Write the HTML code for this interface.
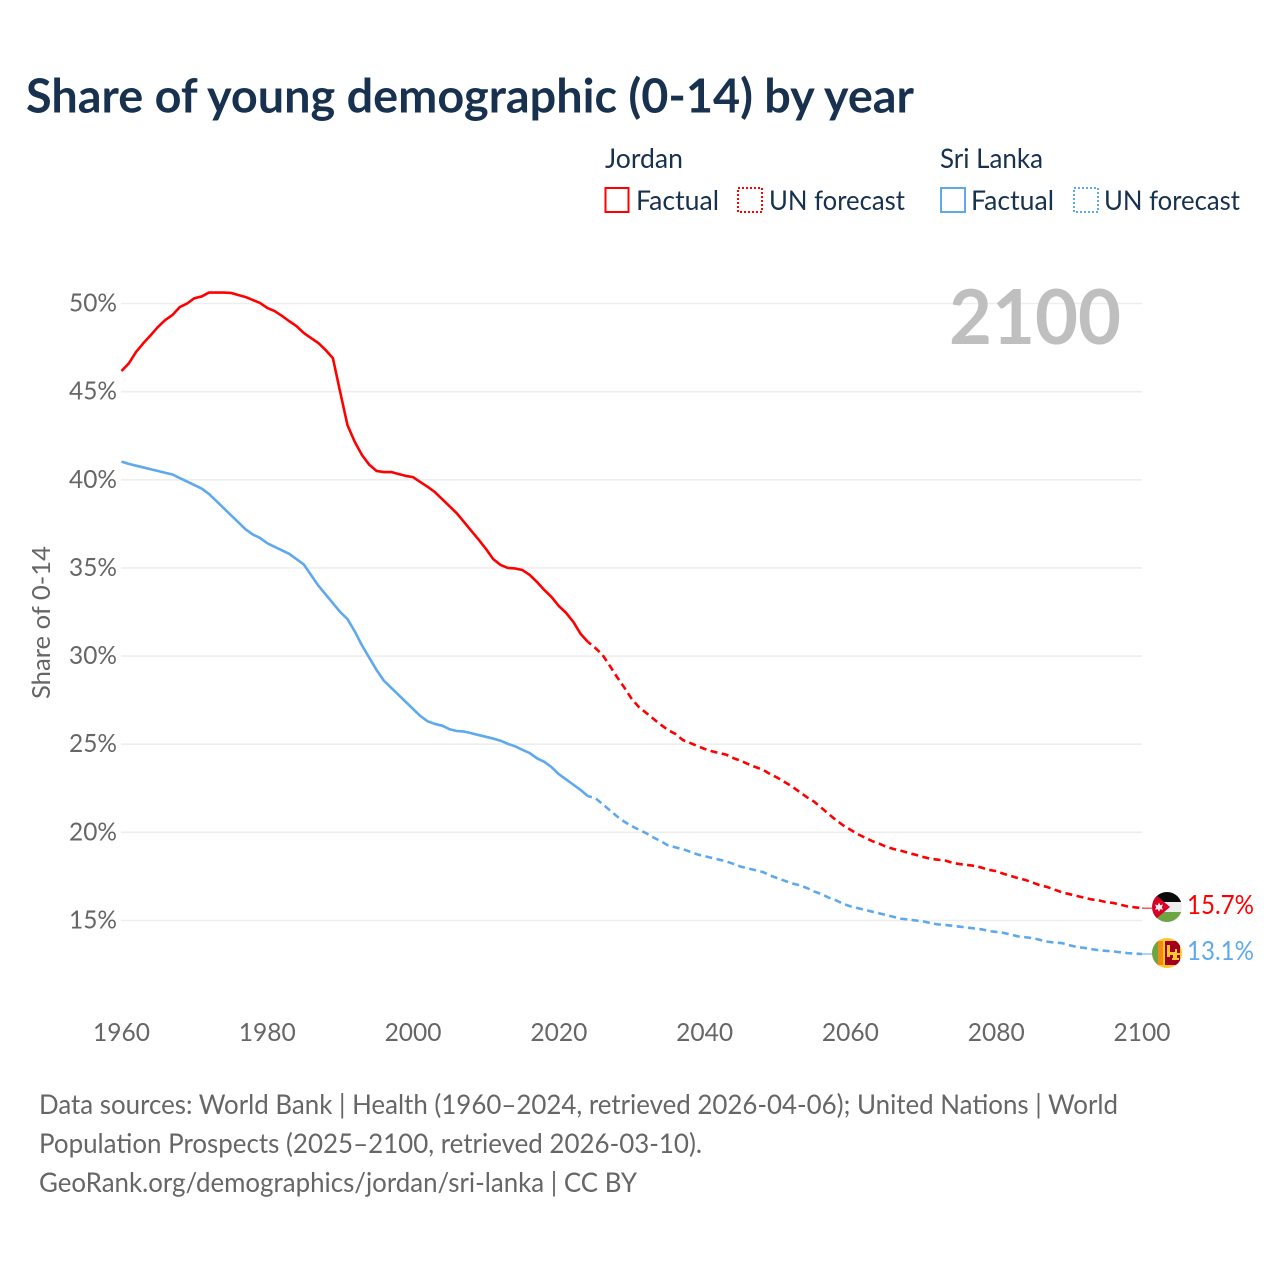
<!DOCTYPE html>
<html lang="en">
<head>
<meta charset="utf-8">
<title>Share of young demographic (0-14) by year</title>
<style>
html,body{margin:0;padding:0;background:#fff;width:1280px;height:1280px;overflow:hidden}
svg{display:block}
text{font-family:"Lato","Carlito","Liberation Sans",sans-serif}
</style>
</head>
<body>
<svg id="chart" xmlns="http://www.w3.org/2000/svg" width="1280" height="1280" viewBox="0 0 1280 1280">
  <defs>
    <clipPath id="jordan-clip"><circle cx="1167" cy="907" r="15"/></clipPath>
    <clipPath id="lanka-clip"><circle cx="1167" cy="953" r="15"/></clipPath>
  </defs>
  <rect x="0" y="0" width="1280" height="1280" fill="#ffffff"/>
  <text x="26" y="112.5" font-size="47" font-weight="700" fill="#17314f" textLength="888" lengthAdjust="spacingAndGlyphs">Share of young demographic (0-14) by year</text>

  <g font-size="27" fill="#17314f">
    <text x="605" y="168" textLength="78" lengthAdjust="spacingAndGlyphs">Jordan</text>
    <text x="940" y="168" textLength="103" lengthAdjust="spacingAndGlyphs">Sri Lanka</text>
    <rect x="605.5" y="188" width="23" height="24" fill="none" stroke="#ff0000" stroke-width="2"/>
    <text x="636" y="210" textLength="83" lengthAdjust="spacingAndGlyphs">Factual</text>
    <rect x="738" y="188" width="24" height="24" fill="none" stroke="#ff0000" stroke-width="2" stroke-dasharray="2 2"/>
    <text x="769" y="210" textLength="136" lengthAdjust="spacingAndGlyphs">UN forecast</text>
    <rect x="941" y="188" width="24" height="24" fill="none" stroke="#5ea9ee" stroke-width="2"/>
    <text x="971" y="210" textLength="83" lengthAdjust="spacingAndGlyphs">Factual</text>
    <rect x="1074" y="188" width="24" height="24" fill="none" stroke="#5ea9ee" stroke-width="2" stroke-dasharray="2 2"/>
    <text x="1104" y="210" textLength="136" lengthAdjust="spacingAndGlyphs">UN forecast</text>
  </g>

  <g id="grid"></g>
  <text x="949" y="344" font-size="76" font-weight="700" fill="#bfbfbf" textLength="172" lengthAdjust="spacingAndGlyphs">2100</text>
  <g id="yticks" font-size="25" fill="#666666" text-anchor="end"></g>
  <g id="xticks" font-size="25" fill="#666666" text-anchor="middle"></g>
  <text transform="translate(50,699) rotate(-90)" font-size="25" fill="#666666" textLength="153" lengthAdjust="spacingAndGlyphs">Share of 0-14</text>
  <g id="series"></g>

  <g clip-path="url(#jordan-clip)">
    <rect x="1152" y="892" width="30" height="10" fill="#0b0b0b"/>
    <rect x="1152" y="902" width="30" height="10" fill="#eeeeee"/>
    <rect x="1152" y="912" width="30" height="10" fill="#6da544"/>
    <polygon points="1150,890 1170,907 1150,924" fill="#d80027"/>
    <polygon points="1159,902.5 1160.2,905.2 1163,904.5 1161.8,907.2 1163,909.8 1160.2,909.2 1159,911.8 1157.8,909.2 1155,909.8 1156.2,907.2 1155,904.5 1157.8,905.2" fill="#eeeeee"/>
  </g>
  <g clip-path="url(#lanka-clip)">
    <rect x="1152" y="938" width="30" height="30" fill="#ffc72c"/>
    <rect x="1152" y="941" width="6" height="24" fill="#6da544"/>
    <rect x="1158" y="941" width="5" height="24" fill="#f58a12"/>
    <rect x="1165" y="941" width="15" height="24" fill="#a2001d"/>
    <path d="M1167 945h3v7h5v-3h2v4h3v2h-3v3h2v2h-7v-2h1v-3h-3v2h-3z" fill="#ffc72c"/>
  </g>
  <text x="1187" y="914" font-size="26" fill="#ff0000" textLength="67" lengthAdjust="spacingAndGlyphs">15.7%</text>
  <text x="1187" y="960" font-size="26" fill="#5ea9ee" textLength="67" lengthAdjust="spacingAndGlyphs">13.1%</text>

  <g font-size="27" fill="#666666">
    <text x="39" y="1114" textLength="1079" lengthAdjust="spacingAndGlyphs">Data sources: World Bank | Health (1960–2024, retrieved 2026-04-06); United Nations | World</text>
    <text x="39" y="1153" textLength="663" lengthAdjust="spacingAndGlyphs">Population Prospects (2025–2100, retrieved 2026-03-10).</text>
    <text x="39" y="1192" textLength="598" lengthAdjust="spacingAndGlyphs">GeoRank.org/demographics/jordan/sri-lanka | CC BY</text>
  </g>
</svg>
<script>
const startYear = 1960;
const lastFactualYear = 2024;
const xTickYears = [1960, 1980, 2000, 2020, 2040, 2060, 2080, 2100];
const yTickValues = [15, 20, 25, 30, 35, 40, 45, 50];
const jordanValues = [
  46.17,46.6,47.25,47.75,48.2,48.67,49.06,49.35,49.8,50.0,
  50.3,50.4,50.62,50.62,50.62,50.6,50.48,50.37,50.2,50.03,
  49.75,49.57,49.3,49.0,48.72,48.33,48.04,47.76,47.36,46.9,
  44.98,43.1,42.15,41.4,40.85,40.5,40.44,40.44,40.33,40.22,
  40.15,39.87,39.6,39.3,38.9,38.5,38.1,37.6,37.1,36.6,
  36.08,35.5,35.17,35.0,34.97,34.88,34.6,34.2,33.75,33.35,
  32.84,32.45,31.93,31.25,30.8,30.46,30.06,29.44,28.8,28.2,
  27.57,27.1,26.77,26.43,26.1,25.8,25.58,25.24,25.07,24.9,
  24.73,24.6,24.5,24.4,24.2,24.05,23.87,23.7,23.55,23.3,
  23.1,22.85,22.6,22.3,22.0,21.75,21.4,21.05,20.7,20.4,
  20.15,19.9,19.7,19.5,19.35,19.17,19.05,18.95,18.83,18.72,
  18.6,18.5,18.45,18.4,18.27,18.2,18.15,18.1,18.0,17.87,
  17.8,17.65,17.53,17.4,17.3,17.15,17.0,16.9,16.75,16.6,
  16.5,16.4,16.3,16.2,16.15,16.05,16.0,15.9,15.8,15.75,15.7
];
const sriLankaValues = [
  41.03,40.9,40.8,40.7,40.6,40.5,40.4,40.3,40.1,39.9,
  39.7,39.5,39.2,38.8,38.4,38.0,37.6,37.2,36.9,36.7,
  36.4,36.2,36.0,35.8,35.5,35.2,34.6,34.0,33.5,33.0,
  32.5,32.1,31.4,30.6,29.9,29.2,28.6,28.2,27.8,27.4,
  27.0,26.6,26.3,26.15,26.05,25.85,25.75,25.72,25.62,25.52,
  25.42,25.32,25.2,25.02,24.88,24.68,24.5,24.2,24.0,23.7,
  23.3,23.0,22.7,22.4,22.05,21.95,21.6,21.25,20.9,20.6,
  20.35,20.15,19.95,19.7,19.5,19.25,19.15,19.05,18.9,18.75,
  18.65,18.55,18.45,18.35,18.2,18.05,17.95,17.85,17.75,17.55,
  17.4,17.25,17.1,17.0,16.85,16.65,16.5,16.3,16.15,15.95,
  15.8,15.7,15.6,15.5,15.4,15.3,15.2,15.1,15.05,15.0,
  14.95,14.85,14.78,14.75,14.7,14.65,14.6,14.55,14.5,14.4,
  14.35,14.3,14.2,14.1,14.05,14.0,13.9,13.8,13.75,13.72,
  13.6,13.5,13.45,13.38,13.32,13.28,13.25,13.2,13.15,13.12,13.1
];

const NS = 'http://www.w3.org/2000/svg';
function xScale(year) { return 121.5 + (year - 1960) * (1142 - 121.5) / 140; }
function yScale(value) { return 920.5 - (value - 15) * (920.5 - 303.5) / 35; }

const grid = document.getElementById('grid');
const yticks = document.getElementById('yticks');
const xticks = document.getElementById('xticks');
const seriesGroup = document.getElementById('series');

yTickValues.forEach(function (v) {
  const line = document.createElementNS(NS, 'line');
  
  
  line.setAttribute('x1', 121);
  line.setAttribute('x2', 1142);
  line.setAttribute('y1', yScale(v));
  line.setAttribute('y2', yScale(v));
  line.setAttribute('stroke', '#eeeeee');
  line.setAttribute('stroke-width', '1.6');
  grid.appendChild(line);

  const label = document.createElementNS(NS, 'text');
  
  
  label.setAttribute('x', 117);
  label.setAttribute('y', yScale(v) + 8);
  label.setAttribute('textLength', 48);
  label.setAttribute('lengthAdjust', 'spacingAndGlyphs');
  label.textContent = v + '%';
  yticks.appendChild(label);
});

xTickYears.forEach(function (yr) {
  const label = document.createElementNS(NS, 'text');
  
  
  label.setAttribute('x', xScale(yr));
  label.setAttribute('y', 1041);
  label.setAttribute('textLength', 57);
  label.setAttribute('lengthAdjust', 'spacingAndGlyphs');
  label.textContent = yr;
  xticks.appendChild(label);
});

function pathFor(values, from, to) {
  let d = '';
  for (let i = from; i <= to && i < values.length; i++) {
    d += (d ? 'L' : 'M') + xScale(startYear + i).toFixed(2) + ' ' + yScale(values[i]).toFixed(2);
  }
  return d;
}

function drawSeries(values, color, name) {
  const split = lastFactualYear - startYear;
  const solid = document.createElementNS(NS, 'path');
  
  
  solid.setAttribute('d', pathFor(values, 0, split));
  solid.setAttribute('fill', 'none');
  solid.setAttribute('stroke', color);
  solid.setAttribute('stroke-width', '2.6');
  solid.setAttribute('stroke-linejoin', 'round');
  seriesGroup.appendChild(solid);

  const dashed = document.createElementNS(NS, 'path');
  
  
  dashed.setAttribute('d', pathFor(values, split, values.length - 1));
  dashed.setAttribute('fill', 'none');
  dashed.setAttribute('stroke', color);
  dashed.setAttribute('stroke-width', '2.6');
  dashed.setAttribute('stroke-dasharray', '7 4.4');
  dashed.setAttribute('stroke-dashoffset', '3');
  seriesGroup.appendChild(dashed);

  const last = values[values.length - 1];
  const leader = document.createElementNS(NS, 'line');
  
  
  leader.setAttribute('x1', xScale(2100));
  leader.setAttribute('x2', 1153);
  leader.setAttribute('y1', yScale(last));
  leader.setAttribute('y2', yScale(last));
  leader.setAttribute('stroke', color);
  leader.setAttribute('stroke-width', '1');
  seriesGroup.appendChild(leader);
}

drawSeries(jordanValues, '#ff0000', 'jordan');
drawSeries(sriLankaValues, '#5ea9ee', 'sri-lanka');
</script>
</body>
</html>
